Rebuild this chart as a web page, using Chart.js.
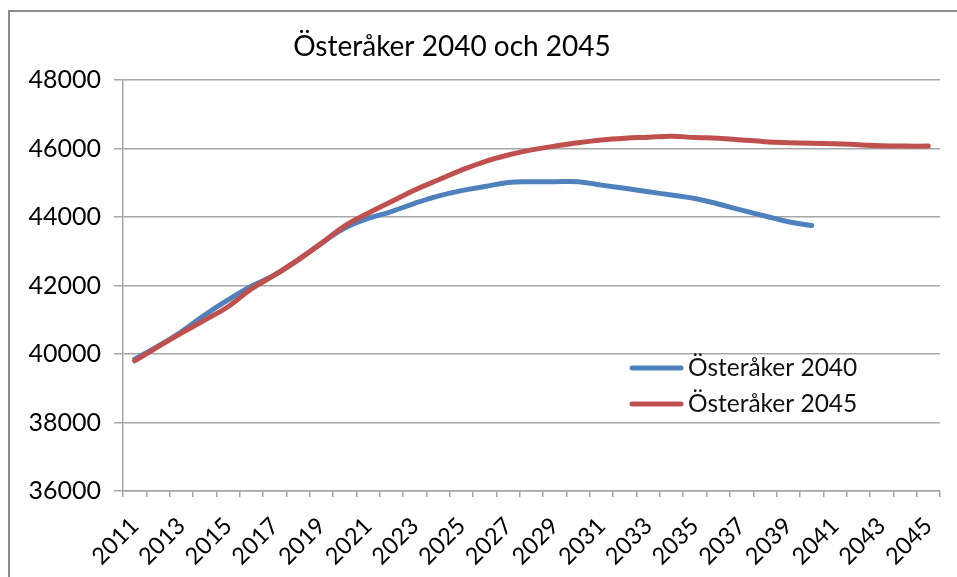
<!DOCTYPE html>
<html>
<head>
<meta charset="utf-8">
<script src="https://cdn.jsdelivr.net/npm/chart.js@4/dist/chart.umd.min.js"></script>
<style>
html,body{margin:0;padding:0;background:#fff;}
#wrap{position:relative;width:957px;height:577px;}
</style>
</head>
<body>
<div id="wrap"><canvas id="c" width="957" height="577"></canvas></div>
<script>
const titleText = 'Österåker 2040 och 2045';
const years = ['2011','2012','2013','2014','2015','2016','2017','2018','2019','2020',
  '2021','2022','2023','2024','2025','2026','2027','2028','2029','2030',
  '2031','2032','2033','2034','2035','2036','2037','2038','2039','2040',
  '2041','2042','2043','2044','2045'];
const seriesNames = ['Österåker 2040', 'Österåker 2045'];
const values2040 = [39850, 40230, 40650, 41140, 41580, 41980, 42310, 42750, 43230, 43680,
  43960, 44160, 44400, 44610, 44770, 44890, 45010, 45030, 45030, 45030,
  44930, 44840, 44740, 44640, 44540, 44380, 44200, 44030, 43860, 43750];
const values2045 = [39800, 40210, 40610, 40990, 41380, 41900, 42310, 42750, 43230, 43740,
  44110, 44450, 44790, 45080, 45370, 45620, 45810, 45960, 46070, 46170,
  46250, 46300, 46330, 46360, 46320, 46300, 46250, 46200, 46170, 46150,
  46140, 46110, 46080, 46070, 46070];
const yMin = 36000, yMax = 48000, yStep = 2000;
const colors = ['#4F81BD', '#C0504D'];

const FONT = 'Lato, "Open Sans", sans-serif';
const gridColor = '#a6a6a6';

const decorPlugin = {
  id: 'decor',
  beforeDraw(chart) {
    const ctx = chart.ctx;
    ctx.save();
    ctx.fillStyle = '#fff';
    ctx.fillRect(0, 0, chart.width, chart.height);
    ctx.strokeStyle = '#8c8c8c';
    ctx.lineWidth = 2;
    ctx.beginPath();
    ctx.moveTo(9, chart.height + 5);
    ctx.lineTo(9, 11);
    ctx.lineTo(chart.width + 5, 11);
    ctx.stroke();
    ctx.restore();
  },
  afterDraw(chart) {
    const ctx = chart.ctx;
    ctx.save();
    ctx.fillStyle = '#000';
    ctx.font = '28px ' + FONT;
    ctx.textAlign = 'center';
    ctx.textBaseline = 'middle';
    ctx.fillText(titleText, 452, 47);
    // legend
    ctx.font = '24.5px ' + FONT;
    ctx.textAlign = 'left';
    const ys = [368, 404];
    chart.data.datasets.forEach((ds, i) => {
      ctx.strokeStyle = ds.borderColor;
      ctx.lineWidth = 5;
      ctx.lineCap = 'round';
      ctx.beginPath();
      ctx.moveTo(632, ys[i]);
      ctx.lineTo(681, ys[i]);
      ctx.stroke();
      ctx.fillStyle = '#111';
      ctx.fillText(ds.label, 688, ys[i]);
    });
    ctx.restore();
  }
};

new Chart(document.getElementById('c'), {
  type: 'line',
  data: {
    labels: years,
    datasets: [
      { label: seriesNames[0], data: values2040, borderColor: colors[0], backgroundColor: colors[0], order: 1 },
      { label: seriesNames[1], data: values2045, borderColor: colors[1], backgroundColor: colors[1], order: 0 }
    ]
  },
  options: {
    responsive: false,
    animation: false,
    devicePixelRatio: 1,
    layout: { padding: { left: 0, top: 80, right: 17, bottom: 0 } },
    elements: {
      line: { borderWidth: 5, tension: 0.4, borderCapStyle: 'round', borderJoinStyle: 'round', fill: false },
      point: { radius: 0, hoverRadius: 0 }
    },
    plugins: {
      legend: { display: false },
      title: { display: false },
      tooltip: { enabled: false }
    },
    scales: {
      x: {
        offset: true,
        grid: { offset: true, drawOnChartArea: false, drawTicks: true, tickLength: 6, color: gridColor, lineWidth: 1.5 },
        border: { color: gridColor, width: 1.5 },
        ticks: {
          autoSkip: false, maxRotation: 45, minRotation: 45, padding: 15,
          color: '#000', font: { family: FONT, size: 23.5 },
          callback: function(v, i) { return i % 2 === 0 ? this.getLabelForValue(v) : ''; }
        },
        afterFit(s) { s.height = 86; s.paddingRight = 0; s.paddingLeft = 0; }
      },
      y: {
        min: yMin, max: yMax,
        grid: { color: gridColor, lineWidth: 1.5, tickLength: 9, drawTicks: true },
        border: { color: gridColor, width: 1.5 },
        ticks: { stepSize: yStep, padding: 13, color: '#000', font: { family: FONT, size: 25 },
          callback: (v) => String(v) },
        afterFit(s) { s.width = 123; }
      }
    }
  },
  plugins: [decorPlugin]
});
</script>
</body>
</html>
